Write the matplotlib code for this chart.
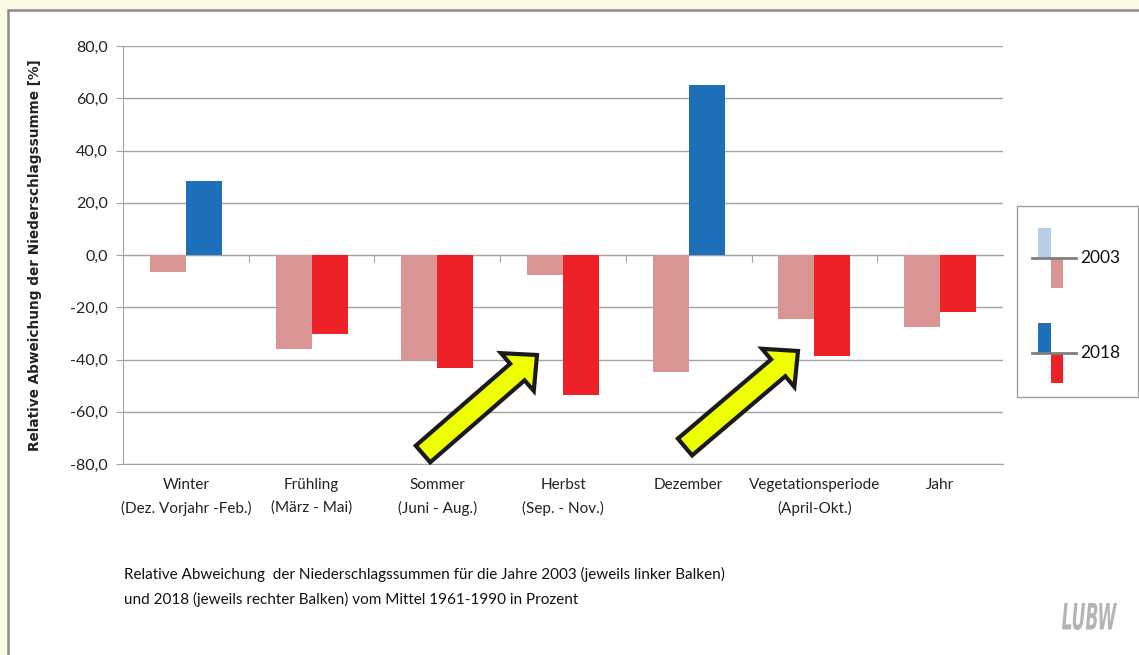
import matplotlib
matplotlib.use("Agg")
import matplotlib.pyplot as plt
import numpy as np
from matplotlib.patches import Rectangle, FancyArrow, PathPatch
from matplotlib.textpath import TextPath
from matplotlib.font_manager import FontProperties
from matplotlib.transforms import Affine2D

plt.rcParams['font.family'] = ['Lato', 'DejaVu Sans']

# Relative Abweichung der Niederschlagssummen vom Mittel 1961-1990 [%]
kategorien = ["Winter\n(Dez. Vorjahr -Feb.)", "Frühling\n(März - Mai)", "Sommer\n(Juni - Aug.)",
              "Herbst\n(Sep. - Nov.)", "Dezember", "Vegetationsperiode\n(April-Okt.)", "Jahr"]
werte_2003 = [-6.5, -36.0, -40.2, -7.7, -44.8, -24.5, -27.6]
werte_2018 = [28.3, -30.2, -43.3, -53.6, 65.1, -38.7, -21.8]
y_ticks = [-80, -60, -40, -20, 0, 20, 40, 60, 80]

farbe_2003_pos = '#B9CDE5'
farbe_2003_neg = '#D99594'
farbe_2018_pos = '#1E6FBA'
farbe_2018_neg = '#EC2227'
grau = '#A3A3A3'

W, H = 1139, 655
fig = plt.figure(figsize=(W / 100, H / 100), dpi=100)
fig.patch.set_facecolor('#FBFBE4')

# Hintergrund-Panel (Pixelkoordinaten)
bg = fig.add_axes([0, 0, 1, 1], zorder=0)
bg.set_xlim(0, W)
bg.set_ylim(H, 0)
bg.axis('off')
bg.add_patch(Rectangle((8, 10), W + 20, H + 20, fc='white', ec='#8C8C8C', lw=1.8))

ax = fig.add_axes([123 / W, 1 - 464 / H, 880 / W, 418 / H], zorder=1)
ax.patch.set_alpha(0)

x = np.arange(len(kategorien))
bw = 0.286
c03 = [farbe_2003_pos if v >= 0 else farbe_2003_neg for v in werte_2003]
c18 = [farbe_2018_pos if v >= 0 else farbe_2018_neg for v in werte_2018]
ax.bar(x - bw / 2, werte_2003, bw, color=c03, zorder=3)
ax.bar(x + bw / 2, werte_2018, bw, color=c18, zorder=3)

ax.set_xlim(-0.5, len(kategorien) - 0.5)
ax.set_ylim(-80, 80)
ax.set_yticks(y_ticks)
ax.set_yticklabels([f"{v:.1f}".replace('.', ',') for v in y_ticks], fontsize=11.5)
ax.yaxis.grid(True, color=grau, lw=1)
ax.set_axisbelow(True)
ax.tick_params(axis='y', length=5, color=grau, pad=6, labelcolor='#222222')

ax.set_xticks(x)
ax.set_xticklabels(kategorien, fontsize=11, linespacing=1.75, color='#222222')
ax.tick_params(axis='x', length=0, pad=10)

for s in ['top', 'right']:
    ax.spines[s].set_visible(False)
ax.spines['left'].set_color(grau)
ax.spines['bottom'].set_color(grau)

# Nulllinie mit Trennstrichen zwischen den Kategorien
null = ax.secondary_xaxis(0.5)
null.set_xticks(np.arange(0.5, len(kategorien) - 0.5, 1.0))
null.xaxis.set_ticks_position('bottom')
null.tick_params(length=5, color=grau, labelbottom=False, labeltop=False, direction='out')
null.spines['bottom'].set_color(grau)
null.spines['top'].set_color(grau)

fig.text(35 / W, 1 - 255 / H, "Relative Abweichung der Niederschlagssumme [%]", rotation=90,
         ha='center', va='center', fontsize=9.8, fontweight='bold', family='DejaVu Sans',
         color='#222222')

# Vordergrund: Legende, Pfeile, Beschriftung
fg = fig.add_axes([0, 0, 1, 1], zorder=3)
fg.set_xlim(0, W)
fg.set_ylim(H, 0)
fg.axis('off')
fg.patch.set_alpha(0)

fg.add_patch(Rectangle((1017, 206), 121, 191, fc='white', ec='#A0A0A0', lw=1))
for y0, cpos, cneg, lab in [(258, farbe_2003_pos, farbe_2003_neg, "2003"),
                            (353, farbe_2018_pos, farbe_2018_neg, "2018")]:
    fg.add_patch(Rectangle((1038, y0 - 30), 13, 30, fc=cpos, ec='none'))
    fg.add_patch(Rectangle((1051, y0), 12, 30, fc=cneg, ec='none'))
    fg.plot([1032, 1076], [y0, y0], color='#7F7F7F', lw=2)
    fg.text(1080, y0, lab, fontsize=12.5, va='center', ha='left', color='#111111')

for (x0, y0), (x1, y1) in [((423, 454), (537, 355)), ((685, 447), (798, 351))]:
    fg.add_patch(FancyArrow(x0, y0, x1 - x0, y1 - y0, width=22, head_width=50, head_length=26,
                            length_includes_head=True, fc='#EEFF00', ec='#1A1A1A', lw=3,
                            joinstyle='miter'))

fg.text(124, 574, "Relative Abweichung  der Niederschlagssummen für die Jahre 2003 (jeweils linker Balken)",
        fontsize=11, va='center', ha='left', color='#111111')
fg.text(124, 599, "und 2018 (jeweils rechter Balken) vom Mittel 1961-1990 in Prozent",
        fontsize=11, va='center', ha='left', color='#111111')

# LUBW-Schriftzug
tp = TextPath((0, 0), "LUBW", size=30,
              prop=FontProperties(family='DejaVu Sans', weight='bold', style='italic'))
ext = tp.get_extents()
sx = 55 / ext.width
sy = 27 / ext.height
tr = Affine2D().translate(-ext.x0, -ext.y0).scale(sx, -sy).translate(1062, 630) + fg.transData
fg.add_patch(PathPatch(tp, fc='#B4B4B4', ec='none', transform=tr))

fig.savefig("out.png", dpi=100, facecolor=fig.get_facecolor())
